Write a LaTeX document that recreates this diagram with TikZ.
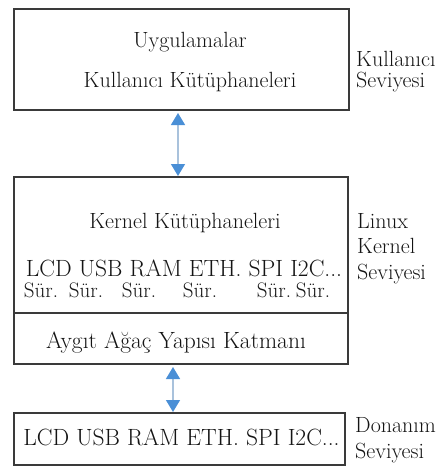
\documentclass[tikz,border=0pt]{standalone}
\usepackage{fontspec}
\usetikzlibrary{arrows.meta}
\definecolor{boxcol}{HTML}{3A3A3A}
\definecolor{txtcol}{HTML}{141414}
\definecolor{linecol}{HTML}{A9C2DC}
\definecolor{headcol}{HTML}{4A8FD6}
\begin{document}
\begin{tikzpicture}[x=1pt,y=-1pt,
  layer/.style={draw=boxcol,line width=1.8pt},
  base/.style={inner sep=0pt,text=txtcol,font=\rmfamily\addfontfeatures{FakeBold=1.2}\fontsize{22}{24}\selectfont},
  txt/.style={base,anchor=base},
  caps/.style={base,anchor=base,font=\rmfamily\addfontfeatures{FakeBold=1.2}\fontsize{23.5}{26}\selectfont},
  sur/.style={base,anchor=base,font=\rmfamily\addfontfeatures{FakeBold=1.2}\fontsize{21}{24}\selectfont},
  lbl/.style={base,anchor=base west},
  link/.style={draw=linecol,line width=1.5pt,{Triangle[width=14pt,length=12pt,color=headcol]}-{Triangle[width=14pt,length=12pt,color=headcol]}}]
\useasboundingbox (0,0) rectangle (445,468);
% boxes
\node[layer,minimum width=335pt,minimum height=101pt,inner sep=0pt] (user) at (181.5,59.5) {};
\node[layer,minimum width=334pt,minimum height=136pt,inner sep=0pt] (kern) at (181,245) {};
\node[layer,minimum width=334pt,minimum height=51pt,inner sep=0pt] (dt) at (181,338.5) {};
\node[layer,minimum width=331pt,minimum height=52pt,inner sep=0pt] (hw) at (179.5,439) {};
% user texts
\node[txt] (app) at (190,48) {Uygulamalar};
\node[txt] (ulib) at (190,88) {Kullanıcı Kütüphaneleri};
% kernel texts
\node[txt] (klib) at (185,228) {Kernel Kütüphaneleri};
\node[caps] (drv) at (184,276) {LCD USB RAM ETH. SPI I2C...};
\node[sur] (s1) at (41,297) {Sür.};
\node[sur] (s2) at (86,297) {Sür.};
\node[sur] (s3) at (139,297) {Sür.};
\node[sur] (s4) at (200,297) {Sür.};
\node[sur] (s5) at (274,297) {Sür.};
\node[sur] (s6) at (313,297) {Sür.};
\node[caps] (dtt) at (176,348) {Aygıt Ağaç Yapısı Katmanı};
% hardware text
\node[caps] (hwt) at (181.5,445) {LCD USB RAM ETH. SPI I2C...};
% side labels
\node[lbl] (l1a) at (356,67) {Kullanıcı};
\node[lbl] (l1b) at (356,88) {Seviyesi};
\node[lbl] (l2a) at (357,228) {Linux};
\node[lbl] (l2b) at (357,253) {Kernel};
\node[lbl] (l2c) at (357,279) {Seviyesi};
\node[lbl] (l3a) at (355,432) {Donanım};
\node[lbl] (l3b) at (355,458) {Seviyesi};
% connectors
\coordinate (a1t) at (178,113);
\coordinate (a1b) at (178,176);
\coordinate (a2t) at (173,367);
\coordinate (a2b) at (173,412);
\draw[link] (a1t) -- (a1b);
\draw[link] (a2t) -- (a2b);
\end{tikzpicture}
\end{document}
